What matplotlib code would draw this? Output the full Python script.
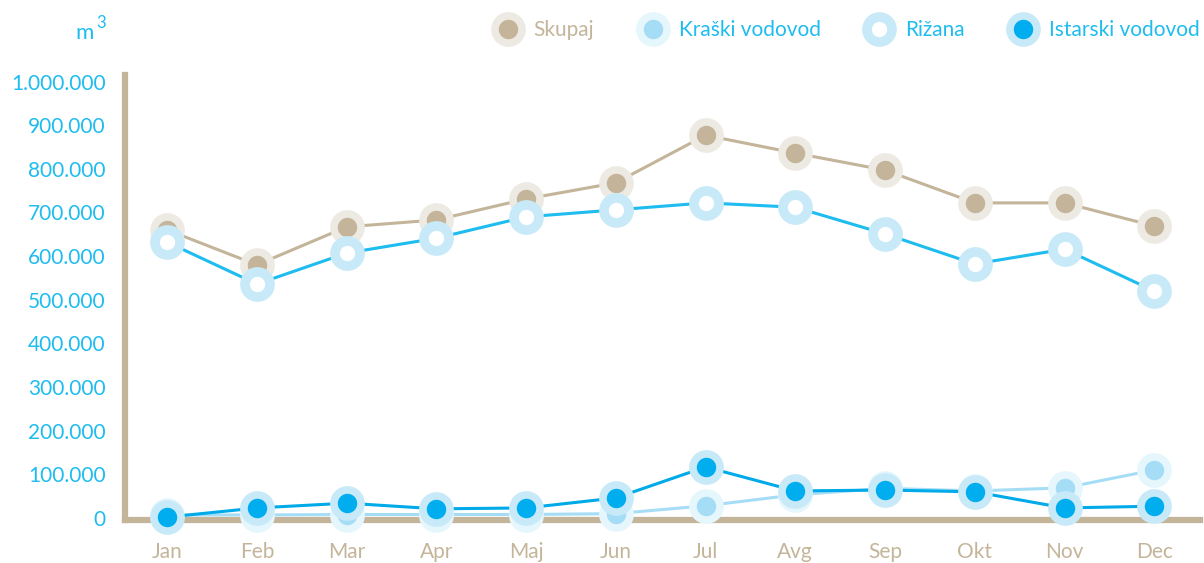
import matplotlib
matplotlib.use('Agg')
import matplotlib.pyplot as plt
from matplotlib.lines import Line2D
import matplotlib.ticker as ticker


months = ['Jan', 'Feb', 'Mar', 'Apr', 'Maj', 'Jun', 'Jul', 'Avg', 'Sep', 'Okt', 'Nov', 'Dec']

skupaj = [660000, 580000, 667000, 683000, 731000, 768000, 877000, 836000, 797000, 722000, 722000, 669000]
kraski = [7000, 7000, 8000, 8000, 8000, 10000, 28000, 53000, 68000, 62000, 69000, 110000]
rizana = [632000, 536000, 607000, 641000, 690000, 706000, 722000, 712000, 651000, 582000, 616000, 520000]
istarski = [2000, 23000, 34000, 21000, 23000, 46000, 117000, 62000, 64000, 60000, 23000, 27000]

series_names = ['Skupaj', 'Kraški vodovod', 'Rižana', 'Istarski vodovod']

BEIGE = '#c4b59a'
BLUE = '#1ebcef'

# line colour, marker face, marker ring, text colour
styles = {
	'Skupaj': dict(color=BEIGE, mfc=BEIGE, mec='#edeae3', ms=19.5, mew=5.5, text=BEIGE),
	'Kraški vodovod': dict(color='#a6ddf6', mfc='#a6ddf6', mec='#e6f6fd', ms=19.5, mew=5.5, text=BLUE),
	'Rižana': dict(color=BLUE, mfc='white', mec='#c8eaf8', ms=18, mew=7, text=BLUE),
	'Istarski vodovod': dict(color='#00aae9', mfc='#00adef', mec='#c8eaf8', ms=19.5, mew=5.5, text=BLUE),
}

plt.rcParams['font.family'] = ['Lato', 'DejaVu Sans']

fig = plt.figure(figsize=(12.04, 5.63), dpi=100)
ax = fig.add_axes([125 / 1204, (563 - 520) / 563, (1200 - 125) / 1204, (520 - 75) / 563])

x = list(range(len(months)))
handles = []
for name, values in zip(series_names, [skupaj, kraski, rizana, istarski]):
	st = styles[name]
	ax.plot(x, values, color=st['color'], lw=2.2, marker='o', ms=st['ms'],
			mfc=st['mfc'], mec=st['mec'], mew=st['mew'], clip_on=False, zorder=3)
	handles.append(Line2D([], [], ls='none', marker='o', ms=st['ms'], mfc=st['mfc'],
						  mec=st['mec'], mew=st['mew']))

ax.set_xlim(-0.47, 11.51)
ax.set_ylim(-4600, 1015000)

ax.set_xticks(x)
ax.set_xticklabels(months)
ax.set_yticks(range(0, 1000001, 100000))
ax.yaxis.set_major_formatter(ticker.FuncFormatter(lambda v, pos: f'{int(v):,}'.replace(',', '.')))

ax.tick_params(axis='both', length=0, labelsize=15)
ax.tick_params(axis='y', colors=BLUE, pad=14)
ax.tick_params(axis='x', colors=BEIGE, pad=16)

for side in ('top', 'right'):
	ax.spines[side].set_visible(False)
for side in ('left', 'bottom'):
	ax.spines[side].set_color(BEIGE)
	ax.spines[side].set_linewidth(4.5)
	ax.spines[side].set_capstyle('projecting')

fig.text(0.063, 0.930, 'm', color=BLUE, fontsize=16, va='baseline')
fig.text(0.080, 0.950, '3', color=BLUE, fontsize=12, va='baseline')

leg = fig.legend(handles, series_names, loc='upper right', bbox_to_anchor=(1.012, 0.998),
				 ncol=4, frameon=False, fontsize=15, handlelength=1.0,
				 handletextpad=0.75, columnspacing=2.3)
for txt, name in zip(leg.get_texts(), series_names):
	txt.set_color(styles[name]['text'])

fig.savefig('out.png', dpi=100)
